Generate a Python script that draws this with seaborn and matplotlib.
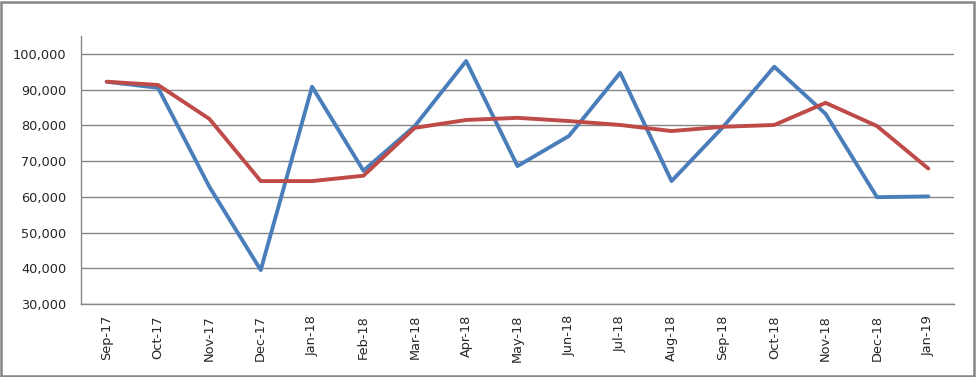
import numpy as np
import pandas as pd
import matplotlib.pyplot as plt
import seaborn as sns
from matplotlib.ticker import FuncFormatter
from matplotlib.patches import Rectangle

meses = ['Sep-17', 'Oct-17', 'Nov-17', 'Dec-17', 'Jan-18', 'Feb-18', 'Mar-18', 'Apr-18', 'May-18',
         'Jun-18', 'Jul-18', 'Aug-18', 'Sep-18', 'Oct-18', 'Nov-18', 'Dec-18', 'Jan-19']
serie_azul = [92200, 90500, 62800, 39500, 90800, 67300, 79800, 98000, 68600,
              77000, 94700, 64400, 79500, 96400, 83200, 59900, 60100]
serie_roja = [92200, 91300, 81800, 64400, 64400, 65900, 79300, 81500, 82100,
              81200, 80100, 78400, 79600, 80100, 86300, 79800, 67900]

# Armo el dataframe largo para seaborn
df = pd.DataFrame({'mes': meses, 'azul': serie_azul, 'roja': serie_roja})
df['pos'] = np.arange(len(meses))
df = pd.melt(df, id_vars=['mes', 'pos'], value_vars=['azul', 'roja'], var_name='serie', value_name='valor')

sns.set_style('white')
plt.rcParams['font.family'] = ['DejaVu Sans']

fig = plt.figure(figsize=(9.77, 3.77), dpi=100)
ax = fig.add_axes([81 / 977, 1 - 304 / 377, (954 - 81) / 977, (304 - 36) / 377])

sns.lineplot(data=df, x='pos', y='valor', hue='serie', palette={'azul': '#4A7EBB', 'roja': '#BE4B48'},
             linewidth=2.8, legend=False, ax=ax, zorder=3)

# Ejes estilo Excel
ax.set_xlim(-0.5, len(meses) - 0.5)
ax.set_ylim(30000, 105000)
ax.set_yticks(range(30000, 100001, 10000))
ax.yaxis.set_major_formatter(FuncFormatter(lambda v, p: f'{int(v):,}'))
ax.set_xticks(np.arange(len(meses)))
ax.set_xticklabels(meses, rotation=90)
ax.set_xticks(np.arange(-0.5, len(meses)), minor=True)
ax.tick_params(axis='x', which='major', length=0, pad=8, labelsize=9.3)
ax.tick_params(axis='x', which='minor', length=5, color='#868686', width=1, direction='out')
ax.tick_params(axis='y', length=5, color='#868686', width=1, direction='out', labelsize=9.3, pad=5.5)
ax.grid(axis='y', color='#868686', linewidth=1)
ax.set_xlabel('')
ax.set_ylabel('')
for s in ['top', 'right']:
    ax.spines[s].set_visible(False)
for s in ['left', 'bottom']:
    ax.spines[s].set_color('#868686')
    ax.spines[s].set_linewidth(1)

# Marco gris alrededor de la figura
fig.patches.append(Rectangle((1 / 977, 1 / 377), 973 / 977, 374 / 377, transform=fig.transFigure,
                             fill=False, edgecolor='#868686', linewidth=1.8))

fig.savefig('out.png', dpi=100)
